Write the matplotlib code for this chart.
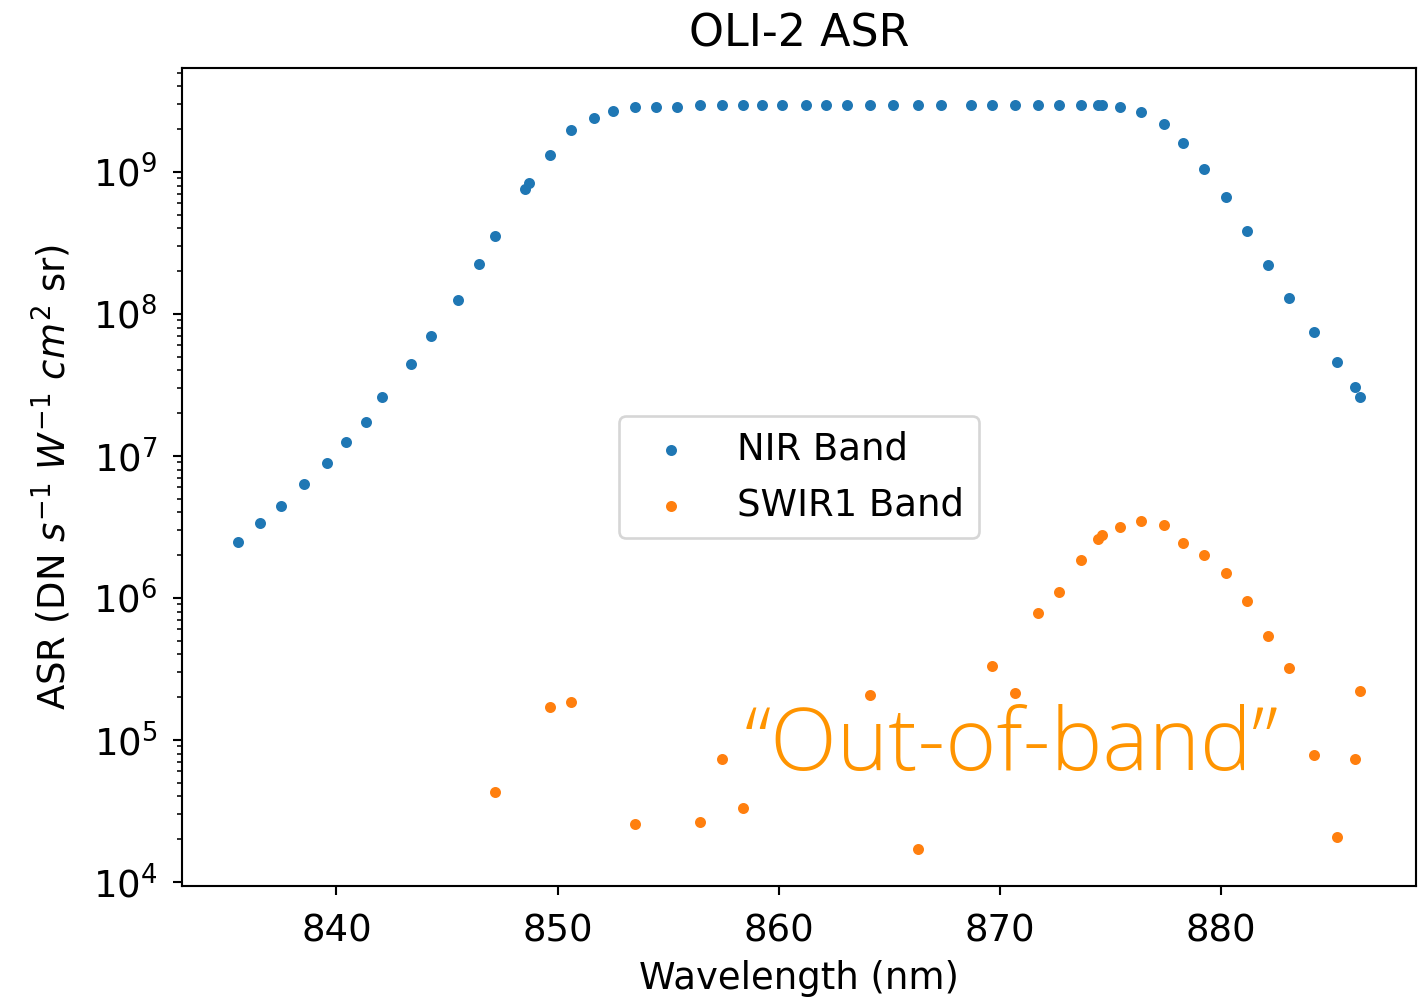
import numpy as np
import matplotlib
matplotlib.use("Agg")
import matplotlib.pyplot as plt

plt.rcParams['font.size'] = 14

# NIR band wavelengths (nm) and ASR values
nir_wl = [835.55, 836.52, 837.48, 838.52, 839.56, 840.44, 841.33, 842.04, 843.39, 844.29,
          845.49, 846.46, 847.16, 848.52, 848.70, 849.64, 850.62, 851.64, 852.52, 853.50,
          854.47, 855.42, 856.46, 857.42, 858.37, 859.26, 860.14, 861.22, 862.13, 863.09,
          864.15, 865.17, 866.30, 867.33, 868.70, 869.67, 870.69, 871.75, 872.70, 873.67,
          874.45, 874.65, 875.43, 876.39, 877.42, 878.31, 879.26, 880.23, 881.18, 882.14,
          883.11, 884.22, 885.28, 886.08, 886.30]
nir_asr = [2.47e6, 3.37e6, 4.47e6, 6.32e6, 8.93e6, 1.26e7, 1.73e7, 2.58e7, 4.47e7, 7.04e7,
           1.26e8, 2.23e8, 3.53e8, 7.63e8, 8.32e8, 1.32e9, 1.98e9, 2.41e9, 2.70e9, 2.86e9,
           2.86e9, 2.86e9, 2.95e9, 2.95e9, 2.95e9, 2.95e9, 2.95e9, 2.95e9, 2.95e9, 2.95e9,
           2.95e9, 2.95e9, 2.95e9, 2.95e9, 2.95e9, 2.95e9, 2.95e9, 2.95e9, 2.95e9, 2.95e9,
           2.95e9, 2.95e9, 2.86e9, 2.63e9, 2.16e9, 1.61e9, 1.05e9, 6.63e8, 3.82e8, 2.21e8,
           1.29e8, 7.47e7, 4.59e7, 3.06e7, 2.58e7]

# SWIR1 band (only positive values shown on log axis)
swir_wl = [847.16, 849.64, 850.62, 853.50, 856.46, 857.42, 858.37, 864.15, 866.30, 869.67,
           870.69, 871.75, 872.70, 873.67, 874.45, 874.65, 875.43, 876.39, 877.42, 878.31,
           879.26, 880.23, 881.18, 882.14, 883.11, 884.22, 885.28, 886.08, 886.30]
swir_asr = [4.31e4, 1.71e5, 1.85e5, 2.56e4, 2.65e4, 7.35e4, 3.32e4, 2.08e5, 1.71e4, 3.32e5,
            2.14e5, 7.83e5, 1.10e6, 1.85e6, 2.60e6, 2.78e6, 3.16e6, 3.49e6, 3.27e6, 2.44e6,
            2.01e6, 1.50e6, 9.53e5, 5.40e5, 3.21e5, 7.83e4, 2.07e4, 7.35e4, 2.21e5]

title = "OLI-2 ASR"
xlabel = "Wavelength (nm)"
ylabel = r"ASR (DN $s^{-1}$ $W^{-1}$ $cm^2$ sr)"
labels = ["NIR Band", "SWIR1 Band"]
annotation = "\u201cOut-of-band\u201d"

dpi = 190
fig = plt.figure(figsize=(1423 / dpi, 1002 / dpi), dpi=dpi)
ax = fig.add_axes([182 / 1423, 1 - 886 / 1002, (1416 - 182) / 1423, (886 - 68) / 1002])

ax.scatter(nir_wl, nir_asr, s=10, color='#1f77b4', label=labels[0])
ax.scatter(swir_wl, swir_asr, s=10, color='#ff7f0e', label=labels[1])
ax.set_yscale('log')
ax.set_title(title, pad=8)
ax.set_xlabel(xlabel)
ax.set_ylabel(ylabel, labelpad=7)
ax.tick_params(axis='x', which='major', pad=6.5)
ax.tick_params(axis='y', which='major', pad=5.8)
ax.legend(loc='center')

ax.text(0.456, 0.142, annotation, transform=ax.transAxes, ha='left', va='baseline',
        fontsize=33, color='#FF9400', family=['Open Sans', 'DejaVu Sans'], fontweight='light')

fig.savefig("out.png", dpi=dpi)
